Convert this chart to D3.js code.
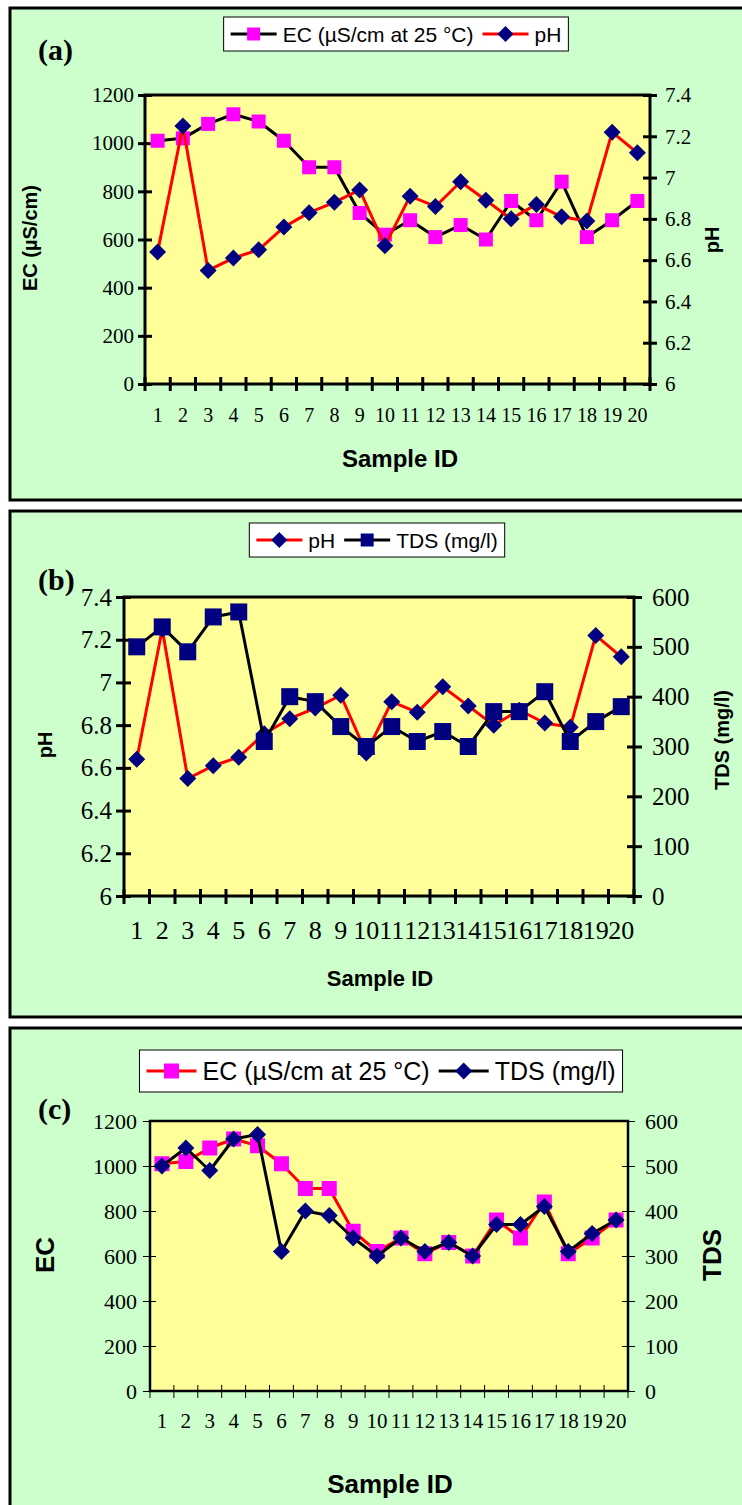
<!DOCTYPE html>
<html>
<head>
<meta charset="utf-8">
<script src="https://cdn.jsdelivr.net/npm/d3@7"></script>
<style>
  body { margin: 0; background: #ffffff; }
  svg { display: block; }
</style>
</head>
<body>
<svg id="chart" width="742" height="1505"></svg>
<script>
// ---- data ----
const sampleIds = ["1","2","3","4","5","6","7","8","9","10","11","12","13","14","15","16","17","18","19","20"];
const ecValues  = [1010,1020,1080,1120,1090,1010,900,900,710,620,680,610,660,600,760,680,840,610,680,760];
const phValues  = [6.64,7.25,6.55,6.61,6.65,6.76,6.83,6.88,6.94,6.67,6.91,6.86,6.98,6.89,6.80,6.87,6.81,6.79,7.22,7.12];
const tdsValues = [500,540,490,560,570,310,400,390,340,300,340,310,330,300,370,370,410,310,350,380];

const ecTicks  = [0,200,400,600,800,1000,1200];
const phTicks  = [6,6.2,6.4,6.6,6.8,7,7.2,7.4];
const tdsTicks = [0,100,200,300,400,500,600];

const ecLabel  = "EC (µS/cm at 25 °C)";
const phLabel  = "pH";
const tdsLabel = "TDS (mg/l)";

// ---- styling ----
const SERIF = "'Liberation Serif','Times New Roman',serif";
const SANS  = "'Liberation Sans',Arial,sans-serif";
const PANEL_BG = "#CCFFCC";
const PLOT_BG  = "#FFFF99";
const MAGENTA = "#FF00FF", NAVY = "#000080", RED = "#FF0000", BLACK = "#000000";

const svg = d3.select("#chart");

// Square or 45°-rotated square marker
function markerPath(type, size) {
  if (type === "square") return d3.symbol(d3.symbolSquare, size * size)();
  return d3.symbol(d3.symbolSquare, size * size / 2)();
}
function markerTransform(type, cx, cy) {
  return type === "diamond" ? `translate(${cx},${cy}) rotate(45)` : `translate(${cx},${cy})`;
}

function drawLegend(g, leg) {
  const lg = g.append("g");
  const box = lg.append("rect").attr("fill", "#fff").attr("stroke", "#000").attr("stroke-width", 1);
  let cx = 0;
  const pad = 7, lineLen = leg.lineLen, gap = 6, itemGap = 9;
  leg.items.forEach((it, i) => {
    if (i > 0) cx += itemGap;
    const x0 = cx;
    lg.append("line").attr("x1", x0).attr("x2", x0 + lineLen).attr("y1", 0).attr("y2", 0)
      .attr("stroke", it.line).attr("stroke-width", 3);
    lg.append("path").attr("d", markerPath(it.marker, it.size))
      .attr("transform", markerTransform(it.marker, x0 + lineLen / 2, 0)).attr("fill", it.fill);
    const t = lg.append("text").attr("x", x0 + lineLen + gap).attr("y", 0).attr("dy", "0.36em")
      .attr("font-family", SANS).attr("font-size", leg.fontSize).attr("fill", "#000").text(it.label);
    cx = x0 + lineLen + gap + t.node().getComputedTextLength();
  });
  const w = cx + pad * 2, h = leg.height;
  box.attr("x", -pad).attr("y", -h / 2).attr("width", w).attr("height", h);
  lg.attr("transform", `translate(${leg.cx - w / 2 + pad},${leg.cy})`);
}

function drawPanel(p) {
  const g = svg.append("g");
  // panel frame
  g.append("rect").attr("x", p.frame.x).attr("y", p.frame.y).attr("width", p.frame.w).attr("height", p.frame.h)
    .attr("fill", PANEL_BG).attr("stroke", "#000").attr("stroke-width", 3);

  const x = d3.scaleBand().domain(sampleIds).range([p.plot.l, p.plot.r]);
  const yL = d3.scaleLinear().domain(p.left.domain).range([p.plot.b, p.plot.t]);
  const yR = d3.scaleLinear().domain(p.right.domain).range([p.plot.b, p.plot.t]);

  // plot area
  g.append("rect").attr("x", p.plot.l).attr("y", p.plot.t)
    .attr("width", p.plot.r - p.plot.l).attr("height", p.plot.b - p.plot.t)
    .attr("fill", PLOT_BG).attr("stroke", "#000").attr("stroke-width", p.axisWidth);

  // left axis
  const la = g.append("g").attr("transform", `translate(${p.plot.l},0)`)
    .call(d3.axisLeft(yL).tickValues(p.left.ticks).tickFormat(d => String(d)).tickSize(p.tickOut).tickPadding(p.left.pad));
  la.select(".domain").remove();
  la.selectAll(".tick line").attr("x1", p.tickIn).attr("stroke-width", p.tickWidth);
  la.selectAll(".tick text").attr("font-family", SERIF).attr("font-size", p.tickFont).attr("fill", "#000");

  // right axis
  const ra = g.append("g").attr("transform", `translate(${p.plot.r},0)`)
    .call(d3.axisRight(yR).tickValues(p.right.ticks).tickFormat(d => String(d)).tickSize(p.tickOut).tickPadding(p.right.pad));
  ra.select(".domain").remove();
  ra.selectAll(".tick line").attr("x1", -p.tickIn).attr("stroke-width", p.tickWidth);
  ra.selectAll(".tick text").attr("font-family", SERIF).attr("font-size", p.tickFont).attr("fill", "#000");

  // category axis: labels centred in bands, ticks on band boundaries
  const xa = g.append("g").attr("transform", `translate(0,${p.plot.b})`)
    .call(d3.axisBottom(x).tickSize(0).tickPadding(p.xPad));
  xa.select(".domain").remove();
  xa.selectAll(".tick text").attr("font-family", SERIF).attr("font-size", p.xFont).attr("fill", "#000");
  const bounds = sampleIds.map(id => x(id)).concat([x.range()[1]]);
  g.append("g").selectAll("line").data(bounds).join("line")
    .attr("x1", d => d).attr("x2", d => d)
    .attr("y1", p.plot.b - p.tickIn).attr("y2", p.plot.b + p.tickOut)
    .attr("stroke", "#000").attr("stroke-width", p.tickWidth);

  // series
  const cxOf = (d, i) => x(sampleIds[i]) + x.bandwidth() / 2;
  p.series.forEach(s => {
    const y = s.axis === "left" ? yL : yR;
    const line = d3.line().x(cxOf).y(d => y(d));
    g.append("path").datum(s.values).attr("d", line)
      .attr("fill", "none").attr("stroke", s.line).attr("stroke-width", 3).attr("stroke-linejoin", "round");
    g.append("g").selectAll("path").data(s.values).join("path")
      .attr("d", markerPath(s.marker, s.size))
      .attr("transform", (d, i) => markerTransform(s.marker, cxOf(d, i), y(d)))
      .attr("fill", s.fill);
  });

  // axis titles
  g.append("text").attr("transform", `translate(${p.leftTitle.x},${p.leftTitle.y}) rotate(-90)`)
    .attr("text-anchor", "middle").attr("dy", "0.35em").attr("font-family", SANS).attr("font-weight", "bold")
    .attr("font-size", p.leftTitle.size).text(p.leftTitle.text);
  g.append("text").attr("transform", `translate(${p.rightTitle.x},${p.rightTitle.y}) rotate(-90)`)
    .attr("text-anchor", "middle").attr("dy", "0.35em").attr("font-family", SANS).attr("font-weight", "bold")
    .attr("font-size", p.rightTitle.size).text(p.rightTitle.text);
  g.append("text").attr("x", p.xTitle.x).attr("y", p.xTitle.y).attr("text-anchor", "middle")
    .attr("font-family", SANS).attr("font-weight", "bold").attr("font-size", p.xTitle.size).text("Sample ID");

  // panel tag
  g.append("text").attr("x", p.tag.x).attr("y", p.tag.y).attr("font-family", SERIF).attr("font-weight", "bold")
    .attr("font-size", p.tag.size).text(p.tag.text);

  drawLegend(g, p.legend);
}

const panels = [
  {
    frame: { x: 10, y: 8, w: 745, h: 492 },
    plot: { l: 145, r: 650, t: 95, b: 384 },
    axisWidth: 3, tickWidth: 3, tickIn: 7, tickOut: 7,
    tickFont: 21, xFont: 20, xPad: 24,
    left: { domain: [0, 1200], ticks: ecTicks, pad: 4 },
    right: { domain: [6, 7.4], ticks: phTicks, pad: 8 },
    series: [
      { values: ecValues, axis: "left", line: BLACK, marker: "square", fill: MAGENTA, size: 14 },
      { values: phValues, axis: "right", line: RED, marker: "diamond", fill: NAVY, size: 17 }
    ],
    leftTitle: { text: "EC (µS/cm)", x: 30, y: 238, size: 20 },
    rightTitle: { text: "pH", x: 712, y: 240, size: 20 },
    xTitle: { x: 400, y: 467, size: 24 },
    tag: { text: "(a)", x: 38, y: 60, size: 30 },
    legend: {
      cx: 396, cy: 34, height: 34, fontSize: 21, lineLen: 46,
      items: [
        { label: ecLabel, line: BLACK, marker: "square", fill: MAGENTA, size: 13 },
        { label: phLabel, line: RED, marker: "diamond", fill: NAVY, size: 16 }
      ]
    }
  },
  {
    frame: { x: 10, y: 511, w: 745, h: 506 },
    plot: { l: 124, r: 634, t: 597, b: 896 },
    axisWidth: 3, tickWidth: 3, tickIn: 7, tickOut: 8,
    tickFont: 25, xFont: 26, xPad: 25,
    left: { domain: [6, 7.4], ticks: phTicks, pad: 4 },
    right: { domain: [0, 600], ticks: tdsTicks, pad: 10 },
    series: [
      { values: phValues, axis: "left", line: RED, marker: "diamond", fill: NAVY, size: 17 },
      { values: tdsValues, axis: "right", line: BLACK, marker: "square", fill: NAVY, size: 17 }
    ],
    leftTitle: { text: "pH", x: 45, y: 745, size: 20 },
    rightTitle: { text: tdsLabel, x: 722, y: 740, size: 20 },
    xTitle: { x: 380, y: 986, size: 22 },
    tag: { text: "(b)", x: 38, y: 590, size: 30 },
    legend: {
      cx: 377, cy: 540, height: 34, fontSize: 21, lineLen: 46,
      items: [
        { label: phLabel, line: RED, marker: "diamond", fill: NAVY, size: 16 },
        { label: tdsLabel, line: BLACK, marker: "square", fill: NAVY, size: 13 }
      ]
    }
  },
  {
    frame: { x: 10, y: 1028, w: 745, h: 500 },
    plot: { l: 150, r: 628, t: 1121, b: 1391 },
    axisWidth: 2.5, tickWidth: 1, tickIn: 6, tickOut: 7,
    tickFont: 22, xFont: 21, xPad: 22,
    left: { domain: [0, 1200], ticks: ecTicks, pad: 6 },
    right: { domain: [0, 600], ticks: tdsTicks, pad: 10 },
    series: [
      { values: ecValues, axis: "left", line: RED, marker: "square", fill: MAGENTA, size: 15 },
      { values: tdsValues, axis: "right", line: BLACK, marker: "diamond", fill: NAVY, size: 17 }
    ],
    leftTitle: { text: "EC", x: 45, y: 1255, size: 26 },
    rightTitle: { text: "TDS", x: 712, y: 1255, size: 26 },
    xTitle: { x: 390, y: 1493, size: 26 },
    tag: { text: "(c)", x: 38, y: 1119, size: 30 },
    legend: {
      cx: 381, cy: 1071, height: 42, fontSize: 25, lineLen: 50,
      items: [
        { label: ecLabel, line: RED, marker: "square", fill: MAGENTA, size: 15 },
        { label: tdsLabel, line: BLACK, marker: "diamond", fill: NAVY, size: 17 }
      ]
    }
  }
];

panels.forEach(drawPanel);
</script>
</body>
</html>
